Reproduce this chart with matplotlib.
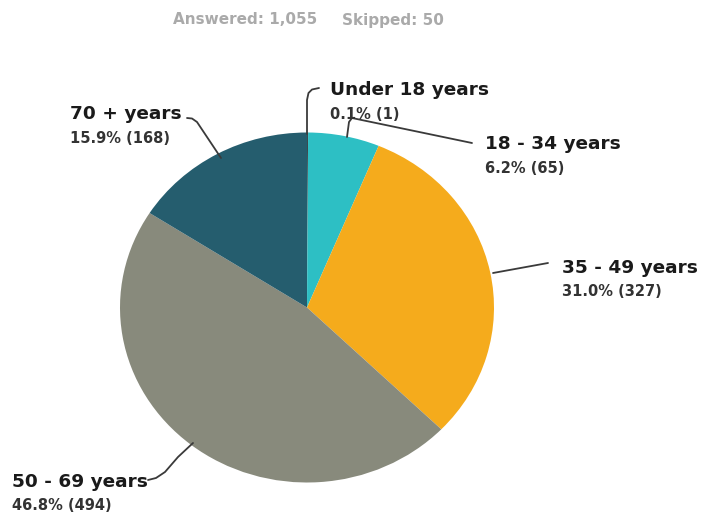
import matplotlib.pyplot as plt

# survey answers: age groups
labels = ['Under 18 years', '18 - 34 years', '35 - 49 years', '50 - 69 years', '70 + years']
counts = [1, 65, 327, 494, 168]
percents = [0.1, 6.2, 31.0, 46.8, 15.9]
answered = 1055
skipped = 50

colors = ['#3a4a50', '#2dbfc4', '#f5ab1c', '#888a7c', '#255d6e']

W, H = 712, 515
CX, CY = 307, 307.5   # pie centre in pixels
RX, RY = 187, 175     # pie radius (horizontal / vertical) in pixels


def px(x, y):
    # pixel position -> data coords of the pie axes
    return ((x - CX) / RX, (CY - y) / RY)


fig = plt.figure(figsize=(W / 100, H / 100), dpi=100)
ax = fig.add_axes([0, 0, 1, 1])
ax.pie(counts, colors=colors, startangle=90, counterclock=False,
       radius=1, wedgeprops=dict(linewidth=0))
ax.set_aspect('auto')
ax.set_xlim(-CX / RX, (W - CX) / RX)
ax.set_ylim(-(H - CY) / RY, CY / RY)
ax.axis('off')

# text block positions (left x, y of name line)
label_pos = [(330, 90), (485, 144), (562, 268), (12, 482), (70, 114)]

# leader lines as pixel polylines, pie end first
leaders = [
    [(307, 134), (307, 100), (308.5, 93), (312, 89.5), (319, 88)],
    [(347, 137), (349, 122), (352, 118), (472, 143)],
    [(493, 273), (548, 263)],
    [(193, 443), (178, 457), (165, 472), (156, 478), (148, 480)],
    [(221, 158), (205, 134), (197, 122), (192, 118.5), (187, 118)],
]

for name, pct, n, (x, y) in zip(labels, percents, counts, label_pos):
    ax.text(*px(x, y), name, fontsize=13.3, fontweight='bold', color='#1a1a1a',
            ha='left', va='center')
    ax.text(*px(x, y + 24), f'{pct:.1f}% ({n})', fontsize=10.5, fontweight='bold',
            color='#333333', ha='left', va='center')

for pts in leaders:
    xs, ys = zip(*[px(a, b) for a, b in pts])
    ax.plot(xs, ys, color='#3a3a3a', lw=1.3, solid_capstyle='round',
            solid_joinstyle='round')

fig.text(173 / W, 1 - 20 / H, f'Answered: {answered:,}', fontsize=11, fontweight='bold',
         color='#aaaaaa', ha='left', va='center')
fig.text(342 / W, 1 - 20 / H, f'Skipped: {skipped}', fontsize=11, fontweight='bold',
         color='#aaaaaa', ha='left', va='center')

fig.savefig('out.png', dpi=100)
